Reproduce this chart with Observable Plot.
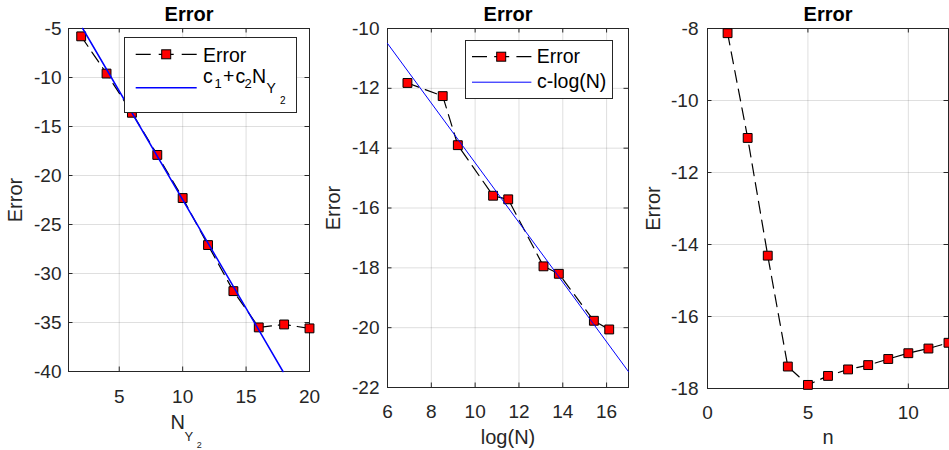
<!DOCTYPE html>
<html><head><meta charset="utf-8">
<script src="https://cdn.jsdelivr.net/npm/d3@7"></script>
<script src="https://cdn.jsdelivr.net/npm/@observablehq/plot@0.6"></script>
<style>
body{margin:0;background:#fff;}
#fig{position:relative;width:949px;height:450px;overflow:hidden;font-family:"Liberation Sans",Arial,Helvetica,sans-serif;}
.panel{position:absolute;top:0;}
.panel svg{overflow:visible;}
.legend{position:absolute;overflow:visible;font-family:"Liberation Sans",Arial,Helvetica,sans-serif;}
</style></head><body><div id="fig"></div>
<script>
// ---- Panel 1 data ----
const nY2 = [2, 4, 6, 8, 10, 12, 14, 16, 18, 20];
const err1 = [-5.8, -9.6, -13.6, -17.9, -22.3, -27.1, -31.8, -35.5, -35.2, -35.6];
const fit1X = [2.12, 17.91];
const fit1Y = [-5, -40];
const xTicks1 = [5, 10, 15, 20];
const yTicks1 = [-40, -35, -30, -25, -20, -15, -10, -5];
// ---- Panel 2 data ----
const logN = [6.91, 8.52, 9.21, 10.82, 11.51, 13.12, 13.82, 15.42, 16.12];
const err2 = [-11.82, -12.26, -13.90, -15.59, -15.71, -17.95, -18.20, -19.77, -20.06];
const fit2X = [6, 17];
const fit2Y = [-10.5, -21.47];
const xTicks2 = [6, 8, 10, 12, 14, 16];
const yTicks2 = [-22, -20, -18, -16, -14, -12, -10];
// ---- Panel 3 data ----
const nVals = [1, 2, 3, 4, 5, 6, 7, 8, 9, 10, 11, 12];
const err3 = [-8.13, -11.04, -14.31, -17.39, -17.90, -17.65, -17.47, -17.35, -17.18, -17.02, -16.89, -16.73];
const xTicks3 = [0, 5, 10];
const yTicks3 = [-18, -16, -14, -12, -10, -8];

const FONT = '"Liberation Sans",Arial,Helvetica,sans-serif';
const INK = "#262626";
const H = 450;
const fmt = d => String(d);

function errMarks(xs, ys) {
  const data = xs.map((x, i) => ({x, y: ys[i]}));
  return [
    Plot.line(data, {x: "x", y: "y", stroke: "black", strokeWidth: 1.2, strokeDasharray: "12,7"}),
    Plot.dot(data, {x: "x", y: "y", symbol: "square", r: 5, fill: "red", stroke: "black", strokeWidth: 1})
  ];
}
function fitMark(xs, ys, w) {
  const data = xs.map((x, i) => ({x, y: ys[i]}));
  return Plot.line(data, {x: "x", y: "y", stroke: "blue", strokeWidth: w});
}

function panel({left, width, ml, mr, mt, mb, xDomain, yDomain, xTicks, yTicks, xPad, yPad, ylabDx, marks}) {
  const fh = H - mt - mb, fw = width - ml - mr, tl = 4.5;
  const svg = Plot.plot({
    width, height: H, marginLeft: ml, marginRight: mr, marginTop: mt, marginBottom: mb,
    x: {domain: xDomain}, y: {domain: yDomain},
    style: {fontFamily: FONT, fontSize: "19px", color: INK, background: "transparent", overflow: "visible"},
    marks: [
      Plot.gridX(xTicks, {x: d => d, stroke: INK, strokeOpacity: 0.15}),
      Plot.gridY(yTicks, {y: d => d, stroke: INK, strokeOpacity: 0.15}),
      Plot.frame({stroke: INK}),
      Plot.tickX(xTicks, {x: d => d, insetTop: fh - tl, stroke: INK}),
      Plot.tickX(xTicks, {x: d => d, insetBottom: fh - tl, stroke: INK}),
      Plot.tickY(yTicks, {y: d => d, insetRight: fw - tl, stroke: INK}),
      Plot.tickY(yTicks, {y: d => d, insetLeft: fw - tl, stroke: INK}),
      Plot.axisX(xTicks, {tickSize: 0, tickPadding: xPad, tickFormat: fmt, label: null}),
      Plot.axisY(yTicks, {tickSize: 0, tickPadding: yPad, tickFormat: fmt, label: null}),
      ...marks,
      Plot.text(["Error"], {text: d => d, frameAnchor: "top", lineAnchor: "bottom", dy: -7.6, fontWeight: "bold", fontSize: 20, fill: "black"}),
      Plot.text(["Error"], {text: d => d, frameAnchor: "left", rotate: -90, textAnchor: "middle", lineAnchor: "middle", dx: ylabDx, fontSize: 20, fill: INK})
    ]
  });
  const div = document.createElement("div");
  div.className = "panel";
  div.style.left = left + "px";
  div.appendChild(svg);
  document.getElementById("fig").appendChild(div);
}

// Panel 1
panel({
  left: 0, width: 320, ml: 68, mr: 11, mt: 28, mb: 79,
  xDomain: [1, 20], yDomain: [-40, -5], xTicks: xTicks1, yTicks: yTicks1, xPad: 17.5, yPad: 7, ylabDx: -53,
  marks: [
    ...errMarks(nY2, err1),
    fitMark(fit1X, fit1Y, 1.5),
    Plot.text(["N"], {text: d => d, frameAnchor: "bottom", textAnchor: "start", lineAnchor: "bottom", dx: -18.5, dy: 57.3, fontSize: 20, fill: INK}),
    Plot.text(["Y"], {text: d => d, frameAnchor: "bottom", textAnchor: "start", lineAnchor: "bottom", dx: -4.5, dy: 69.7, fontSize: 13, fill: INK}),
    Plot.text(["2"], {text: d => d, frameAnchor: "bottom", textAnchor: "start", lineAnchor: "bottom", dx: 7.7, dy: 76.3, fontSize: 9, fill: INK})
  ]
});

// Panel 2
panel({
  left: 310, width: 325, ml: 77, mr: 7, mt: 28, mb: 63,
  xDomain: [6, 17], yDomain: [-22, -10], xTicks: xTicks2, yTicks: yTicks2, xPad: 16.5, yPad: 8, ylabDx: -53.7,
  marks: [
    ...errMarks(logN, err2),
    fitMark(fit2X, fit2Y, 1),
    Plot.text(["log(N)"], {text: d => d, frameAnchor: "bottom", lineAnchor: "bottom", dy: 56.3, fontSize: 20, fill: INK})
  ]
});

// Panel 3
panel({
  left: 640, width: 309, ml: 67, mr: 1, mt: 28, mb: 62,
  xDomain: [0, 12], yDomain: [-18, -8], xTicks: xTicks3, yTicks: yTicks3, xPad: 16.5, yPad: 9, ylabDx: -53.7,
  marks: [
    ...errMarks(nVals, err3),
    Plot.text(["n"], {text: d => d, frameAnchor: "bottom", lineAnchor: "bottom", dy: 55.6, fontSize: 20, fill: INK})
  ]
});

// Legends (layout only)
const fig = document.getElementById("fig");
fig.insertAdjacentHTML("beforeend", `
<svg class="legend" style="left:124px;top:37px" width="174" height="77">
  <rect x="0.5" y="0.5" width="172" height="75" fill="white" stroke="${INK}"/>
  <line x1="11.7" x2="72.7" y1="17.3" y2="17.3" stroke="black" stroke-width="1.2" stroke-dasharray="15,8"/>
  <rect x="37.7" y="12.8" width="9" height="9" fill="red" stroke="black"/>
  <text x="79" y="24.7" font-size="19.5" fill="black">Error</text>
  <line x1="11.7" x2="72.7" y1="50.7" y2="50.7" stroke="blue" stroke-width="1.5"/>
  <text font-size="19.5" fill="black"><tspan x="79" y="45.7">c</tspan><tspan x="90.5" y="50.7" font-size="13">1</tspan><tspan x="99" y="45.7">+</tspan><tspan x="111.5" y="45.7">c</tspan><tspan x="120.5" y="50.7" font-size="13">2</tspan><tspan x="128" y="45.7">N</tspan><tspan x="142.5" y="55.7" font-size="14">Y</tspan><tspan x="156" y="67" font-size="10">2</tspan></text>
</svg>
<svg class="legend" style="left:465px;top:40px" width="149" height="60">
  <rect x="0.5" y="0.5" width="147" height="58" fill="white" stroke="${INK}"/>
  <line x1="7" x2="66.4" y1="16.7" y2="16.7" stroke="black" stroke-width="1.2" stroke-dasharray="15,7.2"/>
  <rect x="31.7" y="12.2" width="9" height="9" fill="red" stroke="black"/>
  <text x="71.7" y="23.3" font-size="19.5" fill="black">Error</text>
  <line x1="7" x2="66.4" y1="42.2" y2="42.2" stroke="blue" stroke-width="1"/>
  <text x="72" y="48.3" font-size="19.5" fill="black">c-log(N)</text>
</svg>`);
</script>
</body></html>
